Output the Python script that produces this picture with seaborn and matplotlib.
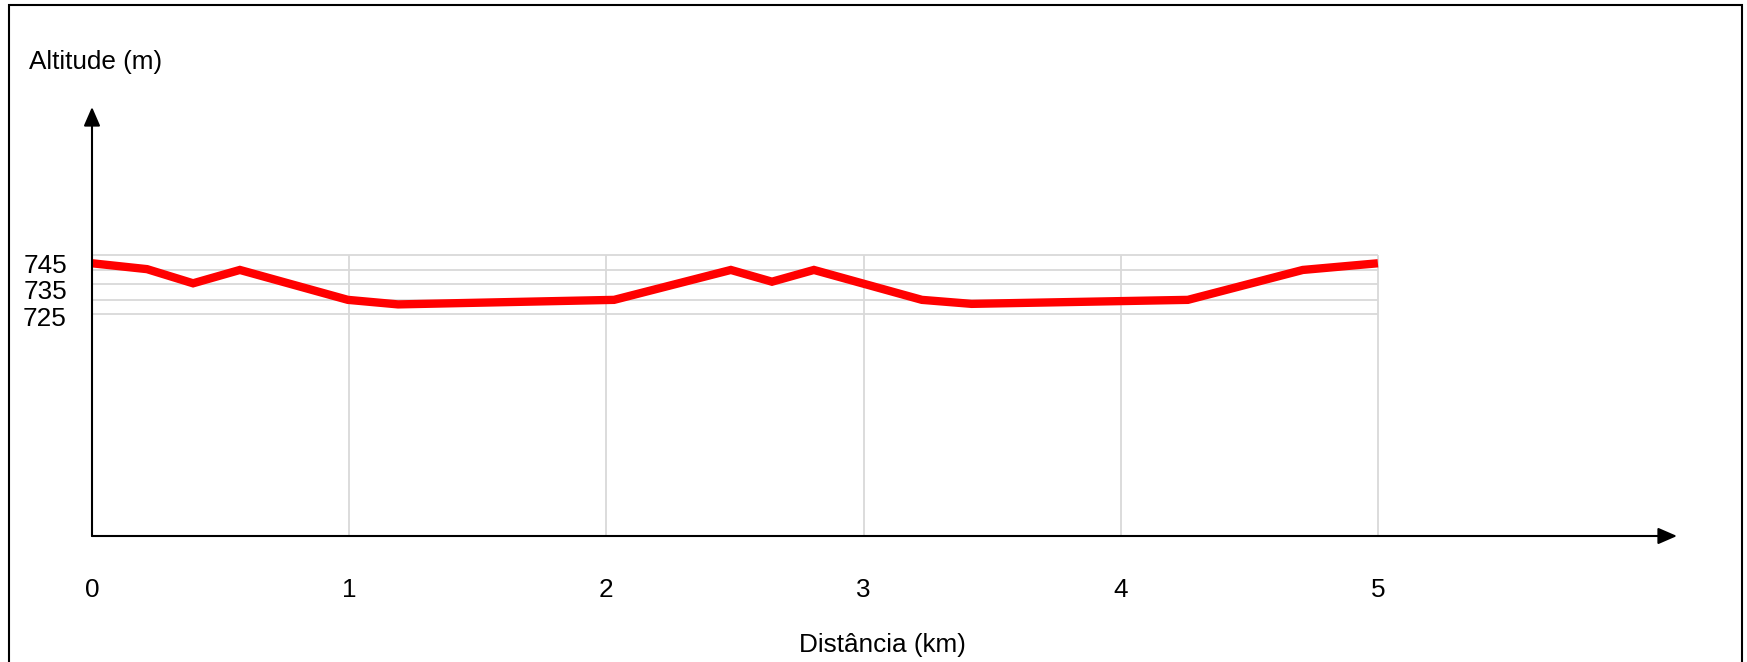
import matplotlib
matplotlib.use("Agg")
import matplotlib.pyplot as plt
from matplotlib.patches import Rectangle
import seaborn as sns
import pandas as pd

# ---- data ----
distance_km = [0.0, 0.214, 0.393, 0.575, 0.995, 1.19, 2.03, 2.484, 2.644,
               2.807, 3.227, 3.42, 4.261, 4.708, 5.0]
altitude_m = [745.0, 742.8, 737.5, 742.5, 731.3, 729.6, 731.3, 742.5, 738.1,
              742.5, 731.3, 729.8, 731.3, 742.5, 745.0]
x_ticks = [0, 1, 2, 3, 4, 5]
x_tick_labels = ["0", "1", "2", "3", "4", "5"]
y_ticks = [745, 735, 725]
y_tick_labels = ["745", "735", "725"]
y_grid = [726.0, 731.25, 737.25, 742.5, 748.1]
x_grid = [1, 2, 3, 4, 5]

df = pd.DataFrame({"Distância (km)": distance_km, "Altitude (m)": altitude_m})

sns.set_theme(style="white")
plt.rcParams["font.family"] = ["Liberation Sans", "DejaVu Sans"]

W, H = 1747, 662
FS = 18.8
fig = plt.figure(figsize=(W / 100, H / 100), dpi=100)
fig.patch.set_facecolor("white")

# outer frame
fig.patches.append(Rectangle((9 / W, -0.05), (1742 - 9) / W, 1.05 - 5 / H,
                             transform=fig.transFigure, fill=False,
                             edgecolor="black", linewidth=1.5))

ax = fig.add_axes([92 / W, 1 - 536 / H, (1677 - 92) / W, (536 - 107) / H])
ax.set_facecolor("white")
ax.set_xlim(0, 6.163)
ax.set_ylim(642.9, 803.5)
for s in ax.spines.values():
    s.set_visible(False)

grid_color = "#d9d9d9"
ax.hlines(y_grid, 0, x_grid[-1], colors=grid_color, linewidth=1.3, zorder=1)
ax.vlines(x_grid, ax.get_ylim()[0], y_grid[-1], colors=grid_color,
          linewidth=1.3, zorder=1)

sns.lineplot(data=df, x="Distância (km)", y="Altitude (m)", ax=ax,
             color="#ff0000", linewidth=6.0, zorder=3, sort=False,
             solid_joinstyle="miter", solid_capstyle="butt")

# arrow axes
arrow = dict(arrowstyle="-|>,head_length=1.15,head_width=0.5", mutation_scale=10,
             lw=1.5, color="black", shrinkA=0, shrinkB=0)
ax.annotate("", xy=(0, 1), xytext=(0, 0), xycoords="axes fraction", arrowprops=arrow, zorder=4)
ax.annotate("", xy=(1, 0), xytext=(0, 0), xycoords="axes fraction", arrowprops=arrow, zorder=4)

ax.set_xticks(x_ticks)
ax.set_xticklabels(x_tick_labels)
ax.set_yticks(y_ticks)
ax.set_yticklabels(y_tick_labels)
ax.tick_params(axis="x", length=0, pad=30, labelsize=FS, colors="black")
ax.tick_params(axis="y", length=0, pad=18, labelsize=FS, colors="black")

ax.set_xlabel("Distância (km)", fontsize=FS, color="black", va="center")
ax.xaxis.set_label_coords((882 - 92) / (1677 - 92), -(645 - 536) / (536 - 107))
ax.set_ylabel("")

fig.text(29 / W, 1 - 62 / H, "Altitude (m)", fontsize=FS, color="black",
         ha="left", va="center")

fig.savefig("out.png", dpi=100, facecolor="white")
